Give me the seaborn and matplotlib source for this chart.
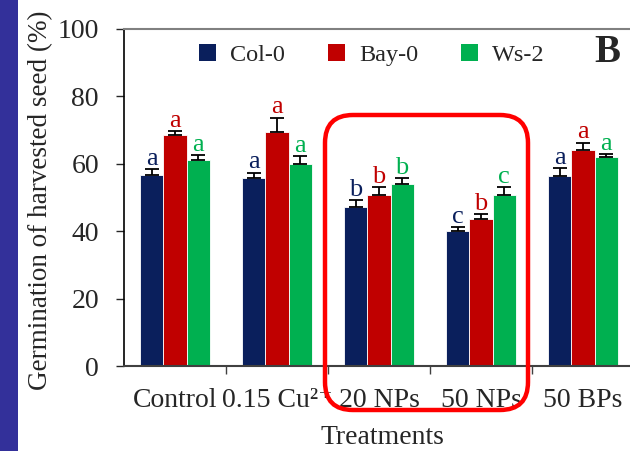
import numpy as np
import pandas as pd
import matplotlib
matplotlib.use("Agg")
import matplotlib.pyplot as plt
import seaborn as sns
from matplotlib.patches import Rectangle, FancyBboxPatch, Patch
from matplotlib.container import BarContainer
from matplotlib.transforms import IdentityTransform

treatments = ["Control", "0.15 Cu²⁺", "20 NPs", "50 NPs", "50 BPs"]
lines = ["Col-0", "Bay-0", "Ws-2"]
col0 = [56.7, 55.9, 47.3, 40.0, 56.4]
bay0 = [68.5, 69.5, 50.7, 43.6, 64.1]
ws2 = [61.0, 59.8, 54.1, 50.7, 61.9]
col0_err = [1.7, 1.5, 1.9, 1.2, 2.3]
bay0_err = [1.3, 4.2, 2.3, 1.5, 2.2]
ws2_err = [1.6, 2.5, 1.6, 2.3, 0.9]
col0_sig = ["a", "a", "b", "c", "a"]
bay0_sig = ["a", "a", "b", "b", "a"]
ws2_sig = ["a", "a", "b", "c", "a"]
yticks = [0, 20, 40, 60, 80, 100]

colors = ["#0A1F5C", "#C00000", "#00B050"]

sns.set_style("ticks")
plt.rcParams["font.family"] = ["Liberation Serif", "DejaVu Serif"]
plt.rcParams["mathtext.fontset"] = "stix"

rows = []
for line, vals in zip(lines, [col0, bay0, ws2]):
    for t, v in zip(treatments, vals):
        rows.append({"Treatment": t, "Line": line, "Value": v})
df = pd.DataFrame(rows)

fig = plt.figure(figsize=(6.3, 4.51), dpi=100)
ax = fig.add_axes([124 / 630, 85 / 451, (630 - 124) / 630, 337 / 451])

sns.barplot(data=df, x="Treatment", y="Value", hue="Line", order=treatments,
            hue_order=lines, palette=colors, width=0.68, errorbar=None,
            edgecolor="white", linewidth=0.6, saturation=1, legend=False, ax=ax)

errs = [col0_err, bay0_err, ws2_err]
sigs = [col0_sig, bay0_sig, ws2_sig]
vals_all = [col0, bay0, ws2]
bar_conts = [c for c in ax.containers if isinstance(c, BarContainer)]
for k, cont in enumerate(bar_conts):
    for j, bar in enumerate(cont.patches):
        xc = bar.get_x() + bar.get_width() / 2
        v = vals_all[k][j]
        e = errs[k][j]
        ax.errorbar(xc, v, yerr=[[0], [e]], fmt="none", ecolor="black",
                    elinewidth=1.3, capsize=5, capthick=1.3, zorder=3)
        ax.annotate(sigs[k][j], (xc, v + e), xytext=(0, 3), textcoords="offset points",
                    ha="center", va="baseline", fontsize=19, color=colors[k])

ax.set_ylim(0, 100)
ax.set_xlim(-0.5, -0.5 + (630 - 124) / 102)
ax.set_yticks(yticks)
ax.set_yticklabels([str(t) for t in yticks], fontsize=20)
ax.tick_params(axis="y", length=6, width=1, direction="out", pad=12)
ax.tick_params(axis="x", which="major", length=0, labelsize=20, pad=16)
ax.set_xticks([0.5, 1.5, 2.5, 3.5], minor=True)
ax.tick_params(axis="x", which="minor", length=6, width=1, direction="out", color="#404040")
ax.set_xlabel("")
ax.set_ylabel("")
ax.spines["right"].set_visible(False)
ax.spines["top"].set_visible(True)
ax.spines["top"].set_color("#808080")
ax.spines["top"].set_linewidth(1.5)
ax.spines["left"].set_color("black")
ax.spines["left"].set_linewidth(1.2)
ax.spines["bottom"].set_color("#404040")
ax.spines["bottom"].set_linewidth(1.5)

handles = [Patch(facecolor=c, edgecolor="none") for c in colors]
fig.legend(handles, lines, loc="center", bbox_to_anchor=(372 / 630, 1 - 55 / 451),
           ncol=3, frameon=False, fontsize=17.5, handlelength=0.7, handleheight=0.7,
           handletextpad=0.58, columnspacing=1.77)

fig.text(607 / 630, 1 - 52 / 451, "B", fontsize=28, fontweight="bold",
         ha="center", va="center")
fig.text(41 / 630, 1 - 200 / 451, "Germination of harvested seed (%)", rotation=90,
         fontsize=19.5, ha="center", va="center")
fig.text(382 / 630, 1 - 437 / 451, "Treatments", fontsize=20, ha="center", va="center")

fig.patches.append(Rectangle((0, 0), 18 / 630, 1, transform=fig.transFigure,
                             facecolor="#33309A", edgecolor="none", zorder=0))

box = FancyBboxPatch((325 + 28, 451 - 410 + 28), 528 - 325 - 56, 410 - 115 - 56,
                     boxstyle="round,pad=28", transform=IdentityTransform(),
                     facecolor="none", edgecolor="#FF0000", linewidth=3.2, zorder=10)
fig.patches.append(box)

fig.savefig("out.png", dpi=100)
